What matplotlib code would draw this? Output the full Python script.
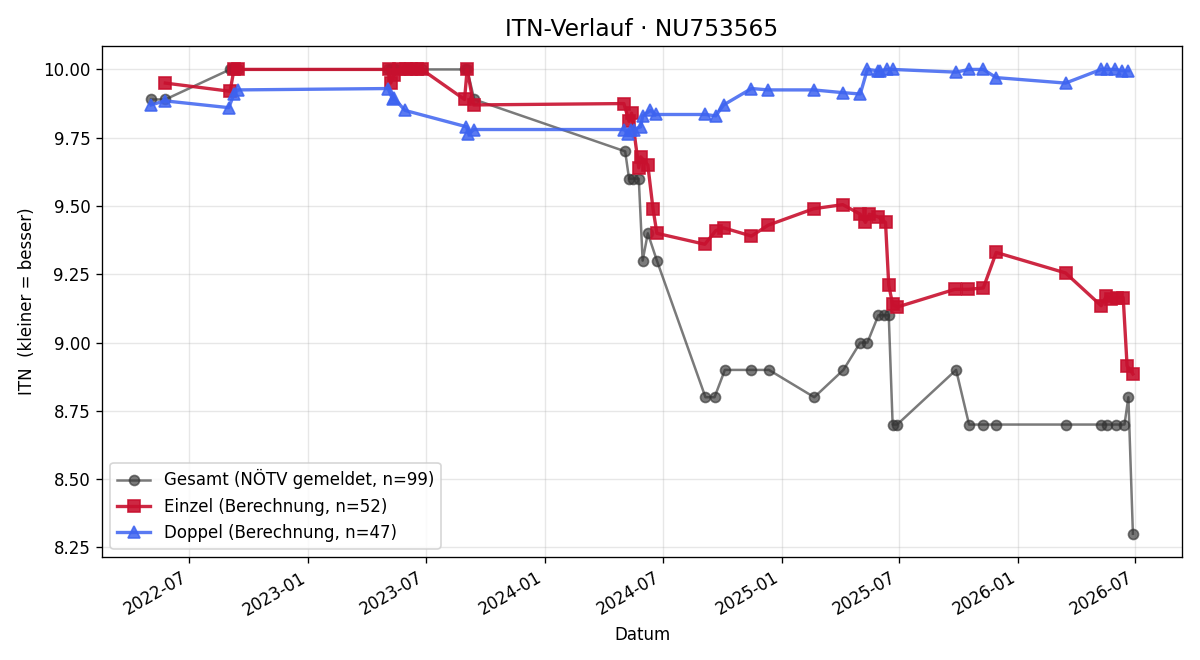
import pandas as pd
import numpy as np
import matplotlib.pyplot as plt
import matplotlib.dates as mdates

# Gesamt (gemeldete ITN)
gesamt_dates = ["2022-05-03", "2022-05-25", "2022-09-02", "2022-09-05", "2022-09-08", "2022-09-14",
                "2023-05-04", "2023-05-08", "2023-05-13", "2023-05-16", "2023-06-01", "2023-06-09",
                "2023-06-25", "2023-08-30", "2023-09-03", "2023-09-14",
                "2024-05-04", "2024-05-10", "2024-05-16", "2024-05-25", "2024-05-31", "2024-06-08",
                "2024-06-22", "2024-09-05", "2024-09-19", "2024-10-05", "2024-11-15", "2024-12-12",
                "2025-02-20", "2025-04-06", "2025-05-02", "2025-05-13", "2025-05-30", "2025-06-07",
                "2025-06-15", "2025-06-21", "2025-06-28", "2025-09-27", "2025-10-17", "2025-11-08",
                "2025-11-28", "2026-03-16", "2026-05-09", "2026-05-18", "2026-06-01", "2026-06-14",
                "2026-06-20", "2026-06-27"]
gesamt_itn = [9.89, 9.89, 10.0, 10.0, 10.0, 10.0,
              10.0, 10.0, 10.0, 10.0, 10.0, 10.0,
              10.0, 10.0, 10.0, 9.89,
              9.70, 9.60, 9.60, 9.60, 9.30, 9.40,
              9.30, 8.80, 8.80, 8.90, 8.90, 8.90,
              8.80, 8.90, 9.00, 9.00, 9.10, 9.10,
              9.10, 8.70, 8.70, 8.90, 8.70, 8.70,
              8.70, 8.70, 8.70, 8.70, 8.70, 8.70,
              8.80, 8.30]

# Einzel (Berechnung)
einzel_dates = ["2022-05-25", "2022-09-02", "2022-09-08", "2022-09-14",
                "2023-05-05", "2023-05-08", "2023-05-13", "2023-05-21", "2023-06-01", "2023-06-09",
                "2023-06-17", "2023-06-25", "2023-08-30", "2023-09-03", "2023-09-13",
                "2024-05-02", "2024-05-10", "2024-05-14", "2024-05-25", "2024-05-28", "2024-06-08",
                "2024-06-16", "2024-06-22", "2024-09-04", "2024-09-21", "2024-10-03", "2024-11-15",
                "2024-12-11", "2025-02-19", "2025-04-05", "2025-05-02", "2025-05-10", "2025-05-16",
                "2025-05-30", "2025-06-10", "2025-06-15", "2025-06-21", "2025-06-28",
                "2025-09-25", "2025-10-16", "2025-11-08", "2025-11-28", "2026-03-15",
                "2026-05-09", "2026-05-17", "2026-05-24", "2026-06-03", "2026-06-12",
                "2026-06-18", "2026-06-27"]
einzel_itn = [9.95, 9.92, 10.0, 10.0,
              10.0, 9.95, 9.98, 10.0, 10.0, 10.0,
              10.0, 10.0, 9.89, 10.0, 9.87,
              9.875, 9.81, 9.84, 9.64, 9.68, 9.65,
              9.49, 9.40, 9.36, 9.41, 9.42, 9.39,
              9.43, 9.49, 9.505, 9.47, 9.44, 9.47,
              9.46, 9.44, 9.21, 9.14, 9.13,
              9.195, 9.195, 9.20, 9.33, 9.255,
              9.135, 9.17, 9.16, 9.165, 9.165,
              8.915, 8.885]

# Doppel (Berechnung)
doppel_dates = ["2022-05-03", "2022-05-24", "2022-08-31", "2022-09-08", "2022-09-14",
                "2023-05-04", "2023-05-11", "2023-05-13", "2023-05-30",
                "2023-09-02", "2023-09-05", "2023-09-14",
                "2024-05-02", "2024-05-08", "2024-05-13", "2024-05-17", "2024-05-28", "2024-05-31",
                "2024-06-12", "2024-06-20", "2024-09-05", "2024-09-21", "2024-10-03", "2024-11-15",
                "2024-12-11", "2025-02-19", "2025-04-05", "2025-05-02", "2025-05-13", "2025-05-30",
                "2025-06-02", "2025-06-13", "2025-06-21", "2025-09-27", "2025-10-17", "2025-11-08",
                "2025-11-28", "2026-03-15", "2026-05-09", "2026-05-18", "2026-05-31", "2026-06-10",
                "2026-06-20"]
doppel_itn = [9.87, 9.885, 9.86, 9.91, 9.925,
              9.93, 9.89, 9.895, 9.85,
              9.79, 9.765, 9.78,
              9.78, 9.765, 9.78, 9.78, 9.79, 9.83,
              9.85, 9.835, 9.835, 9.83, 9.87, 9.93,
              9.925, 9.925, 9.915, 9.91, 10.0, 9.995,
              9.995, 10.0, 10.0, 9.99, 10.0, 10.0,
              9.97, 9.95, 10.0, 10.0, 10.0, 9.995,
              9.995]

gesamt_dates = pd.to_datetime(gesamt_dates)
einzel_dates = pd.to_datetime(einzel_dates)
doppel_dates = pd.to_datetime(doppel_dates)

fig, ax = plt.subplots(figsize=(10, 5.5), dpi=120)

ax.plot(gesamt_dates, gesamt_itn, color="#333333", alpha=0.65, linewidth=1.5,
        marker="o", markersize=6, label="Gesamt (NÖTV gemeldet, n=99)")
ax.plot(einzel_dates, einzel_itn, color="#C8102E", alpha=0.9, linewidth=2,
        marker="s", markersize=7, label="Einzel (Berechnung, n=52)")
ax.plot(doppel_dates, doppel_itn, color="#3D63F0", alpha=0.85, linewidth=2,
        marker="^", markersize=7, label="Doppel (Berechnung, n=47)")

ax.set_title("ITN-Verlauf · NU753565", fontsize=14)
ax.set_xlabel("Datum")
ax.set_ylabel("ITN  (kleiner = besser)")
ax.grid(True, alpha=0.3)
ax.xaxis.set_major_locator(mdates.MonthLocator(bymonth=[1, 7]))
ax.xaxis.set_major_formatter(mdates.DateFormatter("%Y-%m"))
ax.legend(loc="lower left")
fig.autofmt_xdate()
fig.subplots_adjust(left=0.085, right=0.985, top=0.930, bottom=0.156)

plt.savefig("out.png")
